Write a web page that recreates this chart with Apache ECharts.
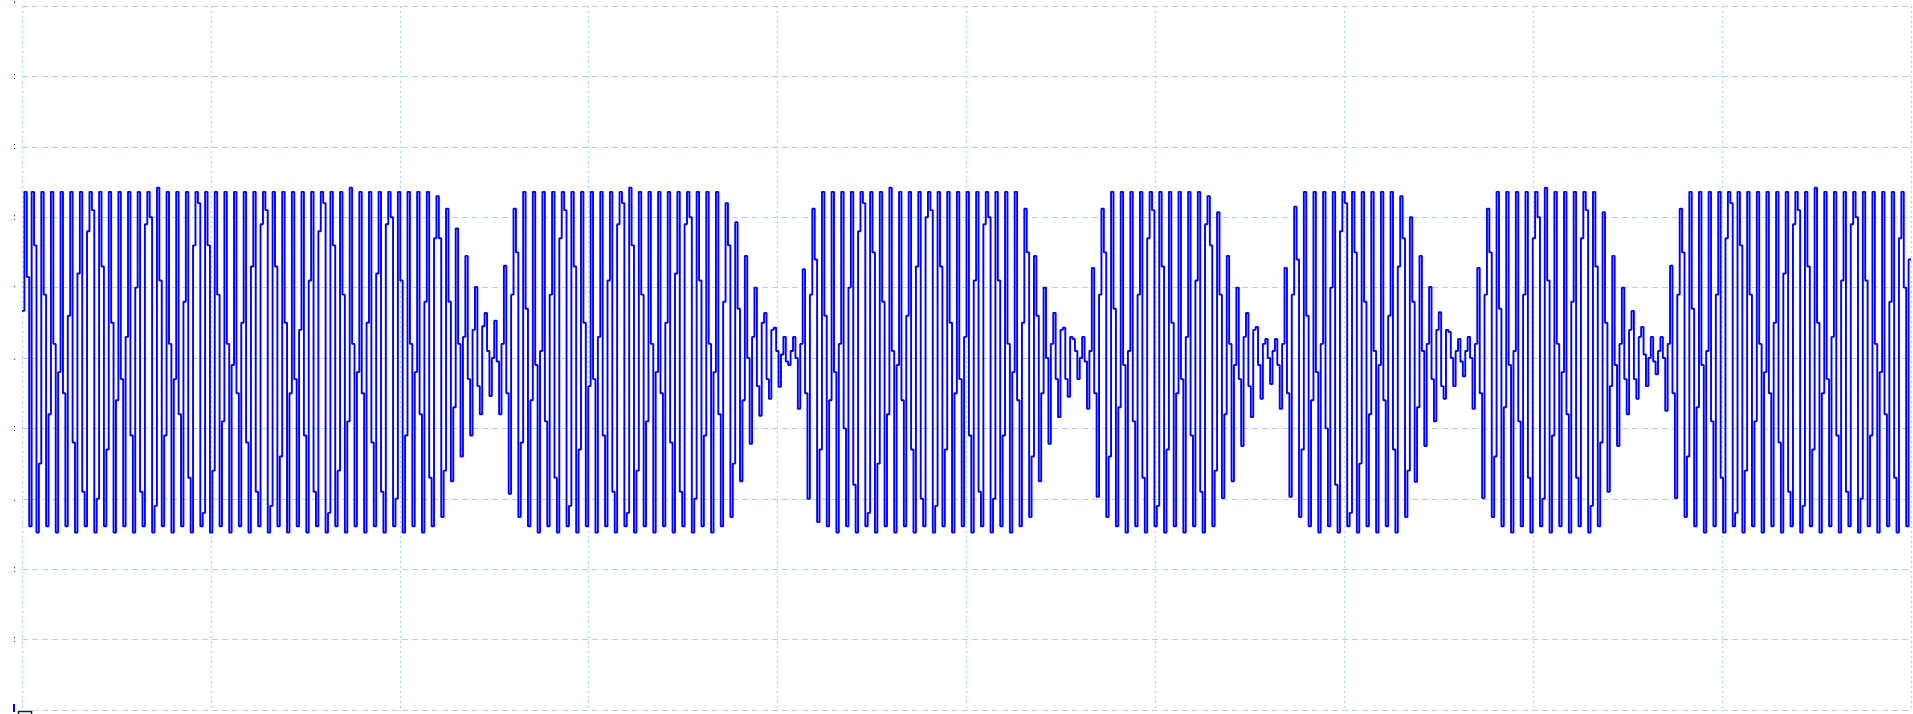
<!DOCTYPE html>
<html><head><meta charset="utf-8">
<script src="https://cdn.jsdelivr.net/npm/echarts@6/dist/echarts.min.js"></script>
<style>html,body{margin:0;padding:0;background:#fff;overflow:hidden}#c{width:1913px;height:714px}</style>
</head><body><div id="c"></div>
<script>
// sample values (vertical divisions), 4 samples per carrier period
const burst1 = [
0.67,2.36,1.15,-2.39, 2.36,1.6,-2.48,-1.5, 2.36,0.9,-2.39,-0.8, 2.36,0.2,-2.48,-0.2,
2.36,-0.5,-2.39,0.6, 2.36,-1.2,-2.48,1.2, 2.36,-1.9,-2.39,1.8, 2.36,2.1,-2.48,-2.0,
2.36,1.3,-2.39,-1.3, 2.36,0.5,-2.48,-0.6, 2.36,-0.3,-2.39,0.3, 2.36,-1.1,-2.48,1.0,
2.36,-1.9,-2.39,1.9, 2.36,2.0,-2.48,-2.1, 2.42,1.1,-2.39,-1.1, 2.36,0.2,-2.48,-0.3,
2.36,-0.8,-2.39,0.8, 2.36,-1.7,-2.48,1.6, 2.36,2.2,-2.39,-2.2, 2.36,1.6,-2.48,-1.6,
2.36,0.9,-2.39,-0.9, 2.36,0.2,-2.48,-0.1, 2.36,-0.5,-2.39,0.5, 2.36,-1.2,-2.48,1.3,
2.36,-1.9,-2.39,1.9, 2.36,2.1,-2.48,-2.1, 2.36,1.3,-2.39,-1.4, 2.36,0.5,-2.48,-0.5,
2.36,-0.3,-2.39,0.4, 2.36,-1.1,-2.48,1.1, 2.36,-1.9,-2.39,1.8, 2.36,2.2,-2.48,-2.2,
2.36,1.6,-2.39,-1.6, 2.36,0.9,-2.48,-0.9, 2.42,0.2,-2.39,-0.2, 2.36,-0.5,-2.48,0.5,
2.36,-1.2,-2.39,1.2, 2.36,-1.9,-2.48,1.9, 2.36,2.0,-2.39,-2.0, 2.36,1.1,-2.48,-1.1,
2.36,0.2,-2.39,-0.2, 2.36,-0.8,-2.48,0.8, 2.36,-1.7,-2.39,1.7,
2.3,1.7,-2.26,-1.6, 2.12,0.8,-1.75,-0.7, 1.84,0.2,-1.4,0.3, 1.45,-0.3,-1.1,0.4,
1.01,-0.4,-0.8,0.45, 0.64,0.1,-0.54,0.0, 0.53,-0.05,-0.8,0.2,
1.31,-0.5,-1.93,0.9
];
const burst2 = [
2.12,1.5,-2.26,-1.2, 2.36,0.7,-2.39,-0.6, 2.36,-0.1,-2.48,0.1, 2.36,-0.9,-2.39,0.9,
2.36,-1.7,-2.48,1.7, 2.36,2.1,-2.39,-2.1, 2.36,1.3,-2.48,-1.3, 2.36,0.5,-2.39,-0.4,
2.36,-0.3,-2.48,0.3, 2.36,-1.1,-2.39,1.1, 2.36,-1.9,-2.48,1.9, 2.36,2.2,-2.39,-2.2,
2.42,1.6,-2.48,-1.6, 2.36,0.9,-2.39,-0.9, 2.36,0.2,-2.48,-0.2, 2.36,-0.5,-2.39,0.5,
2.36,-1.2,-2.48,1.2, 2.36,-1.9,-2.39,1.9, 2.36,2.0,-2.48,-2.0, 2.36,1.1,-2.39,-1.1,
2.36,0.2,-2.48,-0.2, 2.36,-0.8,-2.39,0.8,
2.2,1.6,-2.26,-1.5, 1.93,0.7,-1.75,-0.6, 1.45,0.0,-1.22,0.3, 1.0,-0.4,-0.82,0.5,
0.64,-0.3,-0.58,0.4, 0.43,0.1,-0.41,0.05, 0.3,-0.05,-0.1,0.1, 0.3,0.0,-0.72,0.2,
1.26,-0.5,-2.0,0.9
];
const burst3 = [
2.12,1.4,-2.33,-1.3, 2.36,0.6,-2.39,-0.6, 2.36,-0.2,-2.48,0.2, 2.36,-1.0,-2.39,1.0,
2.36,-1.8,-2.48,1.8, 2.36,2.2,-2.39,-2.2, 2.36,1.5,-2.48,-1.5, 2.36,0.8,-2.39,-0.8,
2.42,0.1,-2.48,-0.1, 2.36,-0.6,-2.39,0.6, 2.36,-1.3,-2.48,1.3, 2.36,-2.0,-2.39,2.0,
2.36,2.1,-2.48,-2.1, 2.36,1.3,-2.39,-1.3, 2.36,0.5,-2.48,-0.5, 2.36,-0.3,-2.39,0.3,
2.36,-1.1,-2.48,1.1, 2.36,-1.9,-2.39,1.9, 2.36,2.0,-2.48,-2.0, 2.36,1.1,-2.39,-1.1,
2.36,0.2,-2.48,-0.2,
2.36,-0.6,-2.39,0.5, 2.12,1.5,-2.26,-1.4, 1.45,0.6,-1.75,-0.5, 1.0,0.0,-1.22,0.2,
0.64,-0.3,-0.84,0.4, 0.43,-0.3,-0.55,0.3, 0.27,0.1,-0.3,0.0, 0.3,-0.05,-0.72,0.1,
1.28,-0.5,-1.97,0.9
];
const burst4 = [
2.12,1.5,-2.26,-1.4, 2.36,0.7,-2.39,-0.7, 2.36,-0.1,-2.48,0.1, 2.36,-0.9,-2.39,0.9,
2.36,-1.7,-2.48,1.7, 2.36,2.1,-2.39,-2.1, 2.36,1.3,-2.48,-1.3, 2.36,0.5,-2.39,-0.5,
2.36,-0.3,-2.48,0.3, 2.36,-1.1,-2.39,1.1, 2.36,-1.9,-2.48,1.9,
2.3,1.6,-2.39,-1.6, 2.07,0.9,-1.99,-0.8, 1.45,0.2,-1.75,-0.1, 1.0,-0.3,-1.25,0.3,
0.64,-0.4,-0.84,0.4, 0.44,-0.1,-0.58,0.2, 0.27,0.0,-0.37,0.1, 0.27,-0.1,-0.72,0.2,
1.28,-0.5,-1.97,0.9
];
const burst5 = [
2.15,1.4,-2.26,-1.3, 2.36,0.6,-2.39,-0.6, 2.36,-0.2,-2.48,0.2, 2.36,-1.0,-2.39,1.0,
2.36,-1.8,-2.48,1.8, 2.36,2.2,-2.39,-2.2, 2.36,1.5,-2.48,-1.5, 2.36,0.8,-2.39,-0.8,
2.36,0.1,-2.48,-0.1, 2.36,-0.6,-2.39,0.6, 2.36,-1.3,-2.48,1.3,
2.3,1.7,-2.26,-1.6, 2.0,0.8,-1.76,-0.7, 1.45,0.1,-1.25,0.2, 1.01,-0.3,-0.9,0.4,
0.65,-0.4,-0.58,0.4, 0.37,0.0,-0.4,0.1, 0.27,-0.05,-0.26,0.1, 0.3,0.0,-0.72,0.2,
1.28,-0.5,-1.99,0.9
];
const burst6 = [
2.12,1.5,-2.26,-1.4, 2.36,0.7,-2.39,-0.7, 2.36,-0.1,-2.48,0.1, 2.36,-0.9,-2.39,0.9,
2.36,-1.7,-2.48,1.7, 2.36,2.0,-2.39,-2.0, 2.42,1.1,-2.48,-1.1, 2.36,0.2,-2.39,-0.2,
2.36,-0.8,-2.48,0.8, 2.36,-1.7,-2.39,1.7, 2.36,2.1,-2.48,-2.1,
2.36,1.3,-2.39,-1.2, 2.07,0.5,-1.9,-0.4, 1.45,-0.1,-1.25,0.2, 1.0,-0.3,-0.8,0.4,
0.67,-0.3,-0.58,0.3, 0.44,0.05,-0.4,0.0, 0.3,-0.05,-0.23,0.1, 0.3,0.0,-0.75,0.2,
1.31,-0.5,-1.99,0.9
];
const burst7 = [
2.12,1.5,-2.26,-1.4, 2.36,0.7,-2.39,-0.7, 2.36,-0.1,-2.48,0.1, 2.36,-0.9,-2.39,0.9,
2.36,-1.7,-2.48,1.7, 2.36,2.2,-2.39,-2.2, 2.36,1.6,-2.48,-1.6, 2.36,0.9,-2.39,-0.9,
2.36,0.2,-2.48,-0.2, 2.36,-0.5,-2.39,0.5, 2.36,-1.2,-2.48,1.2, 2.36,-1.9,-2.39,1.9,
2.36,2.1,-2.48,-2.1, 2.36,1.3,-2.39,-1.3, 2.42,0.5,-2.48,-0.5, 2.36,-0.3,-2.39,0.3,
2.36,-1.1,-2.48,1.1, 2.36,-1.9,-2.39,1.9, 2.36,2.0,-2.48,-2.0, 2.36,1.1,-2.39,-1.1,
2.36,0.2,-2.48,-0.2, 2.36,-0.8,-2.39,0.8, 2.36,-1.7,-2.48,1.7, 2.36,1.0,-2.39,1.4
];
// tiny clipped tick marks on the left edge (bottom to top)
const yTickMarks = ['', ':', ':', '.', ':', '.', '\u00b7', ':', ':', ':', "'"];

const samples = [].concat(burst1, burst2, burst3, burst4, burst5, burst6, burst7);
const data = samples.map((v, i) => [i, v]);
data.push([samples.length, samples[samples.length - 1]]);
const xMax = samples.length;

const chart = echarts.init(document.getElementById('c'), null, {renderer: 'canvas'});
chart.setOption({
  animation: false,
  backgroundColor: '#ffffff',
  grid: {left: 22, right: 2, top: 6, bottom: 4, containLabel: false},
  xAxis: {
    type: 'value', min: 0, max: xMax, interval: xMax / 10,
    axisLine: {show: false}, axisTick: {show: false}, axisLabel: {show: false},
    splitLine: {show: true, lineStyle: {color: '#a9d7e6', width: 1.2, type: [2, 3]}}
  },
  yAxis: {
    type: 'value', min: -5, max: 5, interval: 1,
    axisLine: {show: false}, axisTick: {show: false},
    axisLabel: {
      show: true, color: '#0000ff', fontSize: 9, margin: 6, fontFamily: 'DejaVu Sans',
      formatter: (v, i) => yTickMarks[i] || ''
    },
    splitLine: {show: true, lineStyle: {color: '#a9d7e6', width: 1.2, type: [6, 4]}}
  },
  series: [{
    type: 'line', step: 'end', data: data, showSymbol: false, symbol: 'none',
    lineStyle: {color: '#0000ff', width: 1.9}, clip: true
  }],
  graphic: [
    {type: 'rect', left: 16, top: 709, shape: {width: 13, height: 8}, style: {fill: 'none', stroke: '#222', lineWidth: 1.5}},
    {type: 'rect', left: 13, top: 704, shape: {width: 2, height: 8}, style: {fill: '#0000ff'}}
  ]
});
</script></body></html>
